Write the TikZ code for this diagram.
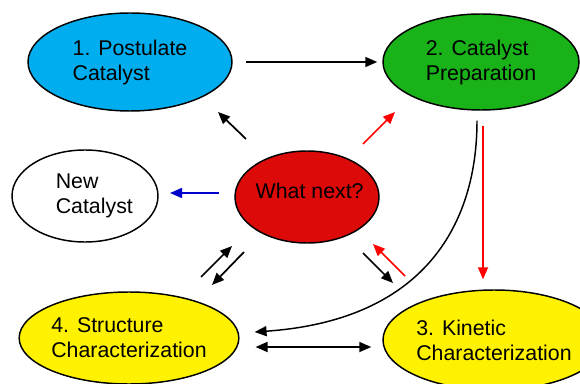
\documentclass[tikz,border=0pt]{standalone}
\usepackage{fontspec}
\setmainfont{Liberation Sans}
\usetikzlibrary{shapes.geometric,arrows.meta}
\definecolor{capblue}{RGB}{0,174,239}
\definecolor{capgreen}{RGB}{25,178,25}
\definecolor{capred}{RGB}{221,10,10}
\definecolor{capyellow}{RGB}{255,242,0}
\definecolor{capnavy}{RGB}{0,0,204}
\tikzset{
  blob/.style={ellipse,draw,line width=1.1pt,inner sep=0pt,align=left,
    font=\fontsize{16}{18.75}\selectfont},
  arr/.style={line width=1.3pt,-{Triangle[length=9pt,width=7.5pt]}},
  darr/.style={line width=1.3pt,{Triangle[length=9pt,width=7.5pt]}-{Triangle[length=9pt,width=7.5pt]}},
}

\begin{document}
\begin{tikzpicture}[x=0.75pt,y=-0.75pt]
\useasboundingbox (0,0) rectangle (580,384);
%stages
\node[blob,fill=capblue,minimum width=153pt,minimum height=73.5pt] (post) at (130,62) {1. Postulate\\Catalyst};
\node[blob,fill=capgreen,minimum width=147pt,minimum height=72pt] (prep) at (481,62) {2. Catalyst\\Preparation};
\node[blob,fill=capyellow,minimum width=166.5pt,minimum height=75pt] (kin) at (494,340) {3. Kinetic\\Characterization};
\node[blob,fill=capyellow,minimum width=154.5pt,minimum height=69pt] (struc) at (129,338) {4. Structure\\Characterization};
\node[blob,fill=white,minimum width=109.5pt,minimum height=69pt,
  label={[font=\fontsize{16}{18.75}\selectfont,align=left,xshift=7pt]center:New\\Catalyst}] (newcat) at (85,196) {};
\node[blob,fill=capred,minimum width=108pt,minimum height=69pt,
  label={[font=\fontsize{16}{18.75}\selectfont,xshift=2pt,yshift=4.5pt]center:What next?}] (next) at (307,197) {};
%ring
\draw[arr] ([shift={(13,0)}]post.east) -- ([shift={(-5,0)}]prep.west);
\draw[arr,red] ([shift={(2,15)}]prep.south) -- ([shift={(-11,-10)}]kin.north);
\draw[arr,line width=1.1pt] ([shift={(-4,10)}]prep.south) .. controls +(0,100) and +(173,-12) .. ([shift={(15,-6)}]struc.east);
\draw[darr] ([shift={(16,9)}]struc.east) -- ([shift={(-11,7)}]kin.west);
%centre
\coordinate (nwa) at (246,139); \coordinate (nwb) at (218,112);
\coordinate (nea) at (363,144); \coordinate (neb) at (395,112);
\coordinate (wa) at (219,193);  \coordinate (wb) at (170,193);
\coordinate (swa) at (201,277); \coordinate (swb) at (232,246);
\coordinate (swc) at (244,252); \coordinate (swd) at (212,285);
\coordinate (sea) at (363,253); \coordinate (seb) at (393,283);
\coordinate (sec) at (405,276); \coordinate (sed) at (373,244);
\draw[arr] (nwa) -- (nwb);
\draw[arr,red] (nea) -- (neb);
\draw[arr,capnavy] (wa) -- (wb);
\draw[arr] (swa) -- (swb);
\draw[arr] (swc) -- (swd);
\draw[arr] (sea) -- (seb);
\draw[arr,red] (sec) -- (sed);
\end{tikzpicture}
\end{document}
